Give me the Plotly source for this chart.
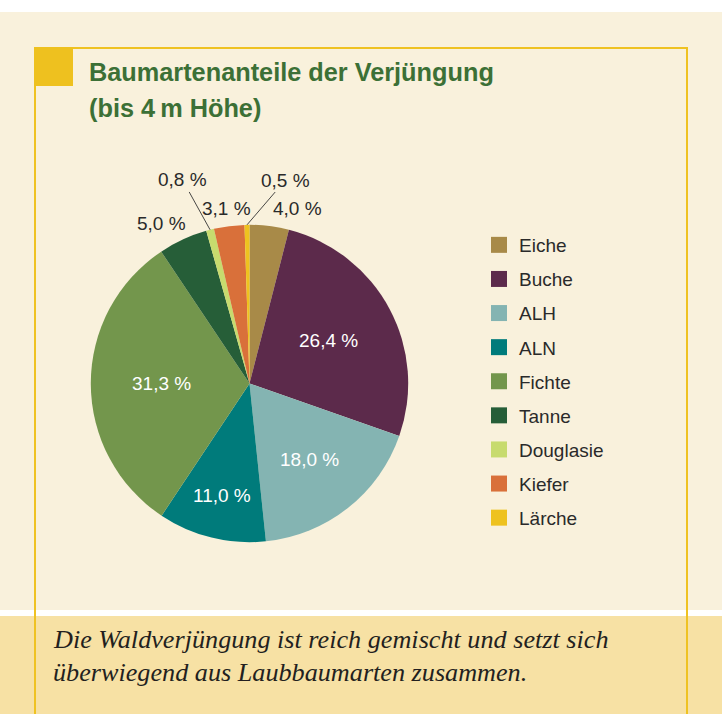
import math
import plotly.graph_objects as go

# ---- data ----
species = ["Eiche", "Buche", "ALH", "ALN", "Fichte", "Tanne", "Douglasie", "Kiefer", "Lärche"]
shares = [4.0, 26.4, 18.0, 11.0, 31.3, 5.0, 0.8, 3.1, 0.5]
colors = ["#A88A48", "#5C2A4B", "#84B4B2", "#007B7B", "#73964C", "#265E38", "#C7DB6E", "#D9703A", "#EEC21F"]
title_lines = ["Baumartenanteile der Verjüngung", "(bis 4\u2009m Höhe)"]
caption_lines = ["Die Waldverjüngung ist reich gemischt und setzt sich",
                 "überwiegend aus Laubbaumarten zusammen."]

# ---- layout helpers ----
W, H = 722, 714
CX, CY, R = 249.5, 383.5, 158.7


def px(x):
    return x / W


def py(y):
    return 1 - y / H


def fmt(v):
    return f"{v:.1f}".replace(".", ",") + " %"


fig = go.Figure()
fig.add_trace(go.Pie(
    labels=species, values=shares, sort=False, direction="clockwise", rotation=0,
    marker=dict(colors=colors, line=dict(width=0)),
    textinfo="none", hoverinfo="label+percent", showlegend=False,
    domain=dict(x=[px(CX - R), px(CX + R)], y=[py(CY + R), py(CY - R)]),
))

# legend entries (one group per species for spacing)
for name, c in zip(species, colors):
    fig.add_trace(go.Scatter(
        x=[None], y=[None], mode="markers", name=name, legendgroup=name,
        marker=dict(symbol="square", size=18, color=c), hoverinfo="skip",
    ))

# label positions derived from slice angles
total = sum(shares)
mids = []
cum = 0.0
for v in shares:
    mids.append((cum + v / 2) / total * 2 * math.pi)
    cum += v


def polar(a, r):
    return CX + r * math.sin(a), CY - r * math.cos(a)


inside_r = {"Buche": 0.568, "ALH": 0.607, "ALN": 0.728, "Fichte": 0.555}
outside_off = {"Eiche": (28, -18), "Kiefer": (-3, -18), "Tanne": (-21, -16)}
leader_off = {"Douglasie": (-27.5, -49.8), "Lärche": (38.5, -44.8)}

annotations = []
label_font = dict(family="Liberation Sans, Arial", size=19)
for name, v, a in zip(species, shares, mids):
    if name in inside_r:
        x, y = polar(a, inside_r[name] * R)
        annotations.append(dict(x=px(x), y=py(y), xref="paper", yref="paper", text=fmt(v),
                                xanchor="center", yanchor="middle",
                                showarrow=False, font=dict(label_font, color="white")))
    elif name in outside_off:
        ex, ey = polar(a, R)
        dx, dy = outside_off[name]
        annotations.append(dict(x=px(ex + dx), y=py(ey + dy), xref="paper", yref="paper", text=fmt(v),
                                xanchor="center", yanchor="middle",
                                showarrow=False, font=dict(label_font, color="#2a2a2a")))
    elif name in leader_off:
        ex, ey = polar(a, R)
        dx, dy = leader_off[name]
        annotations.append(dict(x=px(ex), y=py(ey), xref="paper", yref="paper", text=fmt(v),
                                xanchor="center", yanchor="middle",
                                showarrow=True, arrowhead=0, arrowwidth=0.9, arrowcolor="#333333",
                                ax=dx, ay=dy, standoff=0, font=dict(label_font, color="#2a2a2a")))

# title
title_y = [72.5, 107.5]
for t, yy in zip(title_lines, title_y):
    annotations.append(dict(x=px(87), y=py(yy), xref="paper", yref="paper", text=f"<b>{t}</b>",
                            xanchor="left", yanchor="middle", showarrow=False,
                            font=dict(family="Liberation Sans, Arial", size=25.3, color="#3C7036")))

# caption
cap_y = [639, 672]
for t, yy in zip(caption_lines, cap_y):
    annotations.append(dict(x=px(51), y=py(yy), xref="paper", yref="paper", text=t,
                            xanchor="left", yanchor="middle", showarrow=False,
                            font=dict(family="Liberation Serif, Times New Roman", size=26.2,
                                      color="#231F20", style="italic")))

shapes = [
    dict(type="rect", xref="paper", yref="paper", x0=0, x1=1, y0=py(610), y1=py(12),
         fillcolor="#F9F1DC", line=dict(width=0), layer="below"),
    dict(type="rect", xref="paper", yref="paper", x0=0, x1=1, y0=py(714), y1=py(616),
         fillcolor="#F7E1A4", line=dict(width=0), layer="below"),
    dict(type="rect", xref="paper", yref="paper", x0=px(35), x1=px(687), y0=py(730), y1=py(48),
         fillcolor="rgba(0,0,0,0)", line=dict(width=2, color="#EFC222"), layer="below"),
    dict(type="rect", xref="paper", yref="paper", x0=px(34), x1=px(73), y0=py(86), y1=py(47),
         fillcolor="#EEC11F", line=dict(width=0), layer="below"),
]

fig.update_layout(
    width=W, height=H, margin=dict(l=0, r=0, t=0, b=0),
    paper_bgcolor="white", plot_bgcolor="rgba(0,0,0,0)",
    xaxis=dict(visible=False), yaxis=dict(visible=False),
    showlegend=True,
    legend=dict(x=px(479), y=py(226), xanchor="left", yanchor="top",
                font=dict(family="Liberation Sans, Arial", size=19, color="#2a2a2a"),
                tracegroupgap=6.4, bgcolor="rgba(0,0,0,0)", borderwidth=0,
                itemclick=False, itemdoubleclick=False),
    annotations=annotations, shapes=shapes,
)

fig.write_html("out.html", config={"displayModeBar": False},
               post_script="document.body.style.margin='0px';")
